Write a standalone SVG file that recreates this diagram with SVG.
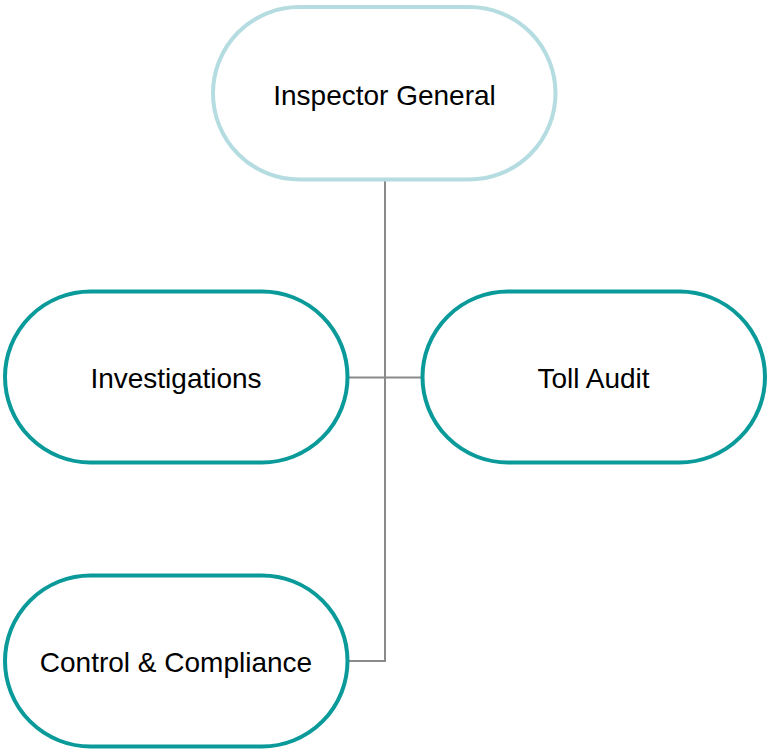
<svg xmlns="http://www.w3.org/2000/svg" width="768" height="751" viewBox="0 0 768 751">
<style>
.box{fill:#fff;stroke:#0a9a9a;stroke-width:4}
.top{fill:#fff;stroke:#b5dde1;stroke-width:4}
.lbl{font-family:"Liberation Sans",Arial,sans-serif;font-size:28px;fill:#000;text-anchor:middle;dominant-baseline:central}
.conn{stroke:#8a8a8a;stroke-width:2;fill:none}
</style>
<rect width="768" height="751" fill="#fff"/>
<g id="connectors">
<path class="conn" d="M385 180V661H348M348 377.5H422"/>
</g>
<g id="inspector-general">
<rect class="top" x="213" y="7" width="342.5" height="172.5" rx="86.25"/>
<text class="lbl" x="384.5" y="95">Inspector General</text>
</g>
<g id="investigations">
<rect class="box" x="5" y="291.5" width="342.5" height="171" rx="85.5"/>
<text class="lbl" x="176" y="378">Investigations</text>
</g>
<g id="toll-audit">
<rect class="box" x="422.5" y="291.5" width="342.5" height="171" rx="85.5"/>
<text class="lbl" x="593.5" y="378">Toll Audit</text>
</g>
<g id="control-compliance">
<rect class="box" x="5" y="575.5" width="342.5" height="171" rx="85.5"/>
<text class="lbl" x="176" y="662">Control &amp; Compliance</text>
</g>
</svg>
